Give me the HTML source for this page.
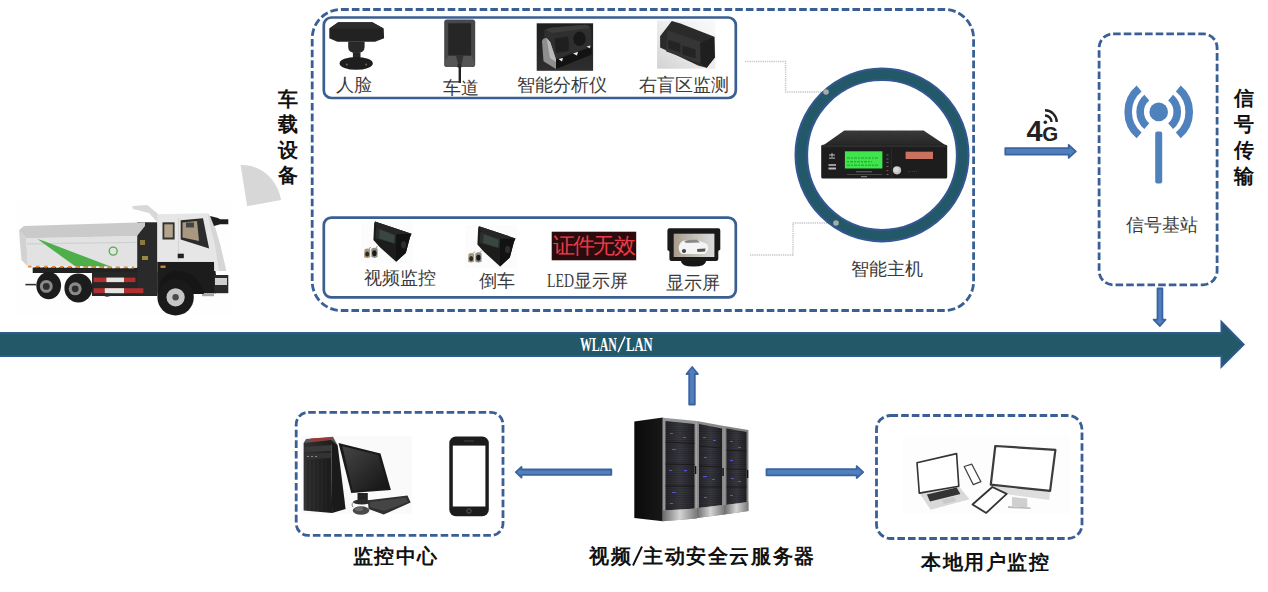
<!DOCTYPE html>
<html><head><meta charset="utf-8">
<style>
html,body{margin:0;padding:0;background:#fff;width:1268px;height:592px;overflow:hidden;position:relative}
.t{position:absolute;line-height:1;white-space:nowrap;font-family:"Liberation Serif",serif;color:#3a3a3a;font-size:17.5px}
.h{position:absolute;line-height:1;white-space:nowrap;font-family:"Liberation Sans",sans-serif;color:#111;font-size:20px;font-weight:bold}
.v{position:absolute;line-height:25px;width:22px;text-align:center;font-family:"Liberation Sans",sans-serif;color:#111;font-size:20px;font-weight:bold}
svg{position:absolute;left:0;top:0}
</style></head><body>
<svg width="1268" height="592" viewBox="0 0 1268 592">
<defs>
  <linearGradient id="arrowg" x1="0" y1="0" x2="0" y2="1">
    <stop offset="0" stop-color="#4a79b5"/><stop offset="0.5" stop-color="#5585c2"/><stop offset="1" stop-color="#4a79b5"/>
  </linearGradient>
</defs>

<!-- big dashed vehicle box -->
<rect x="312.2" y="9.5" width="661.4" height="301" rx="29" ry="29" fill="none" stroke="#3a5f94" stroke-width="2.8" stroke-dasharray="7.6 3.05"/>
<!-- inner top box -->
<rect x="323.8" y="17.5" width="412" height="80.5" rx="7.5" fill="none" stroke="#3a5f92" stroke-width="2.7"/>
<!-- inner bottom box -->
<rect x="323.8" y="217.6" width="412" height="79.8" rx="7.5" fill="none" stroke="#3a5f92" stroke-width="2.7"/>

<!-- dotted connectors -->
<path d="M745 61.5 H785.6 V92 H826" fill="none" stroke="#c6c6c6" stroke-width="1.4" stroke-dasharray="1.3 0.9"/>
<path d="M750 255 H793 V223 H836" fill="none" stroke="#c6c6c6" stroke-width="1.4" stroke-dasharray="1.3 0.9"/>

<!-- ring -->
<circle cx="882" cy="155" r="80.7" fill="none" stroke="#33578f" stroke-width="13.6"/>
<circle cx="882" cy="155" r="80.7" fill="none" stroke="#225868" stroke-width="9.2"/>
<circle cx="826" cy="92" r="2.8" fill="#aaaaaa"/>
<circle cx="836" cy="223" r="2.8" fill="#aaaaaa"/>

<!-- signal box -->
<rect x="1099.1" y="33.8" width="118" height="251" rx="14" fill="none" stroke="#3a5f94" stroke-width="2.8" stroke-dasharray="7.6 3.05"/>

<!-- antenna -->
<g fill="#4f81bd" stroke="none">
  <circle cx="1158.7" cy="111.9" r="9.3"/>
  <rect x="1155.2" y="131.4" width="7" height="52" rx="2"/>
</g>
<g fill="none" stroke="#4f81bd" stroke-width="7.6">
  <path d="M1146.8 97.7 A18.5 18.5 0 0 0 1146.8 126.1"/>
  <path d="M1170.6 97.7 A18.5 18.5 0 0 1 1170.6 126.1"/>
  <path d="M1139.1 88.5 A30.5 30.5 0 0 0 1139.1 135.3"/>
  <path d="M1178.3 88.5 A30.5 30.5 0 0 1 1178.3 135.3"/>
</g>

<!-- 4G -->
<g fill="none" stroke="#222" stroke-width="2.4">
  <path d="M1045 115.5 A6.5 6.5 0 0 1 1051.5 122"/>
  <path d="M1045 110.3 A11.7 11.7 0 0 1 1056.7 122"/>
</g>
<circle cx="1045.3" cy="122.2" r="1.8" fill="#222"/>

<!-- small arrows -->
<g fill="#4f80bd" stroke="#3a63a0" stroke-width="1.8" stroke-linejoin="round">
  <path d="M1005.3 148.1 H1068.7 V144.9 L1075.8 151.4 L1068.7 157.9 V154.6 H1005.3 Z"/>
  <path d="M1157.5 288.5 H1162.4 V319.7 H1165.5 L1159.95 326 L1153.6 319.7 H1157.5 Z"/>
  <path d="M689.2 404.5 V374 H686.5 L692.2 367 L697.9 374 H694.8 V404.5 Z"/>
  <path d="M611.3 469.5 H521.5 V466.9 L515.8 472.2 L521.5 477.6 V474.8 H611.3 Z"/>
  <path d="M766.5 469.1 H856.7 V466.2 L863.2 472.2 L856.7 478 V475.3 H766.5 Z"/>
</g>

<!-- big WLAN arrow -->
<path d="M-2 333 H1221.5 V322 L1243.6 344.4 L1221.5 366.6 V356 H-2 Z" fill="#225868" stroke="#2f5a8c" stroke-width="2"/>

<!-- bottom dashed boxes -->
<rect x="296.2" y="412.3" width="206.8" height="123.1" rx="12" fill="none" stroke="#3a5f94" stroke-width="2.8" stroke-dasharray="7.6 3.05"/>
<rect x="876.5" y="415.5" width="205.5" height="123" rx="14" fill="none" stroke="#3a5f94" stroke-width="2.8" stroke-dasharray="7.6 3.05"/>

<!-- grey pie -->
<path d="M240.6 165.1 C261 164.5 277.5 179 281.1 200.1 L247.2 206.2 Z" fill="#d7d7d7"/>

<!-- ILLUSTRATIONS placeholder -->
<g id="illus">
<!-- TRUCK -->
<g id="truck">
  <rect x="16" y="199" width="216" height="116" fill="#fefefe"/>
  <!-- chassis -->
  <path d="M32.7 267 H140 V273 H32.7 Z" fill="#222"/>
  <path d="M92 272 H157.5 V296 H92 Z" fill="#262626"/>
  <path d="M137.2 222.3 H157.4 V294 H137.2 Z" fill="#2a2a2a"/>
  <rect x="140" y="240" width="5" height="5" fill="#8a7a40"/>
  <rect x="142" y="256" width="6" height="4" fill="#9a8a40"/>
  <path d="M157.4 261.8 H214.1 L216 275 V293.2 H157.4 Z" fill="#1c1c1c"/>
  <line x1="25.4" y1="284.6" x2="36" y2="284.6" stroke="#333" stroke-width="1.6"/>
  <!-- red/white bars -->
  <rect x="93.6" y="277.6" width="41.8" height="4.5" fill="#b03030"/>
  <rect x="106.4" y="277.6" width="17.6" height="4.5" fill="#e4e4e4"/>
  <rect x="93.6" y="288.2" width="49.8" height="5" fill="#b03030"/>
  <rect x="104.8" y="288.2" width="19.2" height="5" fill="#e4e4e4"/>
  <!-- rear wheels -->
  <ellipse cx="48.7" cy="285.6" rx="12.4" ry="13.6" fill="#1c1c1c"/>
  <circle cx="46.3" cy="286.4" r="6.4" fill="#8a8a8a"/><circle cx="46.3" cy="286.4" r="3.4" fill="#2e2e2e"/>
  <path d="M101 293 Q106 300 114 294 Z" fill="#2a2a2a"/>
  <ellipse cx="78.4" cy="288" rx="14" ry="14.4" fill="#1c1c1c"/>
  <circle cx="75.2" cy="288.8" r="6.5" fill="#8a8a8a"/><circle cx="75.2" cy="288.8" r="3.4" fill="#2e2e2e"/>
  <!-- dump body -->
  <path d="M26.2 238.3 L137 235.9 V268 L27.8 266.4 Z" fill="#e2e2e2"/>
  <path d="M19 230.2 L26.2 238.3 L27.8 266.4 L21.4 260 Z" fill="#d2d2d2"/>
  <line x1="27" y1="243.9" x2="137" y2="242.4" stroke="#d0d0d0" stroke-width="1.2"/>
  <path d="M19 230.2 L24 226 L145 222.2 L145 226 L137 235.9 L26.2 238.3 Z" fill="#cacaca"/>
  <!-- green stripe -->
  <path d="M37.5 239.1 L43 240.7 L114.5 268 L77.6 268 Z" fill="#4caf4a"/>
  <circle cx="113.2" cy="251.1" r="4" fill="none" stroke="#4caf4a" stroke-width="1.3"/>
  <!-- orange-white strip -->
  <line x1="28" y1="266.6" x2="134" y2="267.5" stroke="#e58a3a" stroke-width="1.8" stroke-dasharray="3.5 4.5"/>
  <line x1="32" y1="266.6" x2="134" y2="267.5" stroke="#f2f2f2" stroke-width="1.8" stroke-dasharray="3.5 4.5"/>
  <!-- deflector -->
  <path d="M132.1 206.1 L147.3 205.1 L158.4 214.2 L158.4 223.3 L149 213 L133 209 Z" fill="#d8d8d8"/>
  <!-- cab -->
  <path d="M157.4 214.2 L208 213.2 L214.1 224.3 L220.2 244.6 L226.3 270.9 L214.1 270.9 V261.8 H157.4 Z" fill="#e6e6e6"/>
  <path d="M208 213.2 L214.1 224.3 L220.2 244.6 L226.3 270.9 L219 270.9 L215 245 L210 226 Z" fill="#d6d6d6"/>
  <line x1="178.5" y1="218" x2="178.5" y2="261" stroke="#cfcfcf" stroke-width="0.8"/>
  <!-- windows -->
  <path d="M162.5 222.3 H174.6 V239.5 H162.5 Z" fill="#333"/>
  <path d="M164.3 224.3 H172.8 V237.5 H164.3 Z" fill="#b4a48c"/>
  <path d="M180.7 220.3 L203 218.3 L209.1 248.6 L180.7 239.5 Z" fill="#2c2c2c"/>
  <path d="M182.5 222.5 L197 221 L199 241 L182.5 237.5 Z" fill="#a89880"/>
  <rect x="186" y="222.5" width="8" height="5" fill="#444"/>
  <!-- mirror -->
  <path d="M210 216 L218 218 L220.2 219.3 L228.3 219.3 L228.3 224.3 L220.2 224.3 L214 226 Z" fill="#1e1e1e"/>
  <rect x="177.7" y="253.7" width="6.1" height="4.5" fill="#222"/>
  <rect x="160.5" y="265.6" width="5" height="2.3" fill="#d8883a"/>
  <!-- front bumper -->
  <path d="M214.1 275 H228.3 V293.2 H214.1 Z" fill="#2a2a2a"/>
  <rect x="215" y="278" width="12" height="7" fill="#cfcfcf"/>
  <rect x="202" y="293.2" width="12" height="3" fill="#aaa"/>
  <!-- front wheel -->
  <path d="M158 294 Q160 272 176 271 Q198 271 204 294 Z" fill="#161616"/>
  <circle cx="175.6" cy="297.3" r="18.2" fill="#1a1a1a"/>
  <circle cx="175.6" cy="297.3" r="9.1" fill="#c6c6c6"/>
  <circle cx="175.6" cy="297.3" r="3.2" fill="#4a4a4a"/>
</g>
<!-- FACE CAMERA 人脸 -->
<g id="facecam">
  <path d="M338.2 22.3 H372.3 L383.7 28.4 L384.1 38.3 L375.1 41.7 H337.3 L329.3 38.3 V28.4 Z" fill="#222"/>
  <path d="M338.2 22.3 H372.3 L383.7 28.4 H329.3 Z" fill="#2c2c2c"/>
  <path d="M348.2 41.5 H364.6 V47 Q364.6 53 356.4 53 Q348.2 53 348.2 47 Z" fill="#282828"/>
  <rect x="352.9" y="52.5" width="7.6" height="7.5" fill="#262626"/>
  <ellipse cx="356.2" cy="63.4" rx="16.6" ry="6.4" fill="#1e1e1e"/>
  <circle cx="346.8" cy="64.4" r="1" fill="#666"/>
  <circle cx="366.2" cy="64.4" r="1" fill="#666"/>
</g>

<!-- LANE CAMERA 车道 -->
<g id="lanecam">
  <rect x="444.2" y="19.5" width="31" height="47.5" rx="2.8" fill="#484848"/>
  <rect x="448.2" y="23.3" width="22.9" height="32.5" rx="0.8" fill="#262626"/>
  <path d="M448.2 55.8 H471.1 L475 64 Q475 67 472 67 H447.5 Q444.2 67 444.2 64 Z" fill="#555"/>
  <path d="M456 55.8 H463.5 L461.5 64 H458 Z" fill="#333"/>
  <rect x="457.5" y="64" width="4" height="3.5" fill="#2a2a2a"/>
  <line x1="459.8" y1="66" x2="459.8" y2="83" stroke="#222" stroke-width="2.4"/>
</g>

<!-- INTELLIGENT ANALYZER -->
<g id="analyzer">
  <defs><linearGradient id="anbg" x1="0" y1="0" x2="0" y2="1"><stop offset="0" stop-color="#1e1e1e"/><stop offset="1" stop-color="#2e2e2e"/></linearGradient></defs>
  <rect x="536.7" y="23.3" width="56.4" height="47.5" fill="url(#anbg)"/>
  <path d="M544.4 30.5 Q546 28 552 27.5 L585 24.8 Q590 25 591 29 L591.6 42 L589.7 46.9 L556 58.4 L547 52 Q544 44 544.4 30.5 Z" fill="#2f2f2f"/>
  <path d="M546 30 Q548 28 553 27.5 L585 24.8 Q589 25 590 28 L552 33 Z" fill="#3c3c3c"/>
  <path d="M555 38.5 L568 36.5 Q569.5 45 568.5 51 L556 53 Q554.5 45 555 38.5 Z" fill="#1f1f1f"/>
  <ellipse cx="579.5" cy="38.8" rx="6.2" ry="7.2" fill="#181818"/>
  <path d="M542 41 Q543 37.8 546.5 38 L550.2 42.1 L556 59.4 L556 69 L543.5 61.3 Z" fill="#8e8e8e"/>
  <path d="M546.5 38 L550.2 42.1 L556 59.4 L556 62 L550 58 Z" fill="#b8b8b8"/>
  <path d="M556 59.4 L591.6 46.9 L591.6 54.6 L556 69 Z" fill="#121212"/>
  <path d="M558.5 59 L563 58 L562 61.5 Z" fill="#f0f0f0"/>
  <path d="M573 53.5 L578 51.8 L577 55.5 Z" fill="#e8e8e8"/>
  <path d="M586.5 46.5 L590.5 45.5 L590 48.5 Z" fill="#d8d8d8"/>
</g>

<!-- RIGHT BLIND CAMERA -->
<g id="blindcam">
  <defs><linearGradient id="bcg" x1="0" y1="1" x2="1" y2="0"><stop offset="0" stop-color="#d2d2d2"/><stop offset="0.5" stop-color="#ececec"/><stop offset="1" stop-color="#fafafa"/></linearGradient></defs>
  <rect x="657.1" y="20.6" width="58.2" height="48.1" fill="url(#bcg)"/>
  <path d="M660.1 36.3 L671.8 21.1 L680.4 23.6 L714.3 36.8 L714.8 57.5 L706.7 67.7 L698.6 65.7 L660.1 47.4 Z" fill="#2a2a2a"/>
  <path d="M667.2 30.2 L702.7 42.4 L700.7 63.6 L666.2 51.5 Z" fill="#353535"/>
  <path d="M668.2 39.8 L680.4 43.5 L680.4 52.5 L668.2 48.5 Z" fill="#242424"/>
  <path d="M682.4 45.4 L695.6 49.5 L695.6 58.6 L682.4 54.5 Z" fill="#242424"/>
  <path d="M700 43 L714.3 36.8 L714.8 57.5 L706.7 67.7 L700.7 63.6 Z" fill="#1f1f1f"/>
</g>

<!-- VIDEO CAMERA 1 -->
<g id="vcam1">
  <rect x="361.2" y="220.4" width="51.9" height="43" fill="#fcfcfc"/>
  <path d="M374.2 222.9 L375 221.6 L411.5 233.8 L409.9 237.5 L405.8 252.9 L396.1 261.8 L379.9 247.2 L373.4 239.9 Z" fill="#1c1c1c"/>
  <path d="M376.6 226.9 L396.1 234.2 L395.3 244 L375.4 238.3 Z" fill="#2b2f2c"/>
  <path d="M379.8 229.6 L394.5 235.2 L394 243 L379 238.5 Z" fill="#3a4640"/>
  <path d="M396.1 234.2 L411.5 233.8 L409.9 237.5 L405.8 252.9 L396.1 261.8 Z" fill="#121212"/>
  <ellipse cx="403.6" cy="244.8" rx="2.6" ry="3.6" fill="#2e2e2e"/>
  <path d="M375 221.6 L411.5 233.8 L396.1 234.2 L376.6 226.9 Z" fill="#262626"/>
  <path d="M364.5 249.5 Q367 247.5 370.2 249.5 L370.2 257 Q367 259 364 257 Z" fill="#a89a78"/>
  <ellipse cx="367.2" cy="254" rx="2" ry="2.6" fill="#2a2a2a"/>
  <path d="M371.3 248.8 Q374.5 246.5 377.6 248.8 L377.6 256.8 Q374.5 259 371.3 256.8 Z" fill="#8f8f7f"/>
  <ellipse cx="374.4" cy="253.2" rx="2.2" ry="3" fill="#1a1a1a"/>
  <line x1="369" y1="249" x2="370.5" y2="247" stroke="#777" stroke-width="0.8"/>
  <line x1="376" y1="248" x2="377.5" y2="246" stroke="#777" stroke-width="0.8"/>
</g>
<use href="#vcam1" transform="translate(104 4.6)"/>

<!-- LED PANEL -->
<g id="led">
  <rect x="551.7" y="231.7" width="84.5" height="28.6" fill="#2a0c0e"/>
</g>

<!-- MONITOR -->
<g id="monitor">
  <defs><linearGradient id="scr" x1="0" y1="0" x2="1" y2="0"><stop offset="0" stop-color="#a89c8a"/><stop offset="0.55" stop-color="#c4c2bc"/><stop offset="1" stop-color="#dcdcdc"/></linearGradient></defs>
  <path d="M681 261 Q681 266.5 693.5 266.5 Q706 266.5 706 261 Z" fill="#161616"/>
  <path d="M669.5 228.3 H718.3 Q720.3 228.3 720.3 230.5 V249.6 L718.3 251 V259 Q718.3 261 716 261 H671.5 Q669.4 261 669.4 259 V251.2 L667.4 250 V230.5 Q667.4 228.3 669.5 228.3 Z" fill="#1a1a1a"/>
  <rect x="673.7" y="233.7" width="40.7" height="23.3" fill="url(#scr)"/>
  <path d="M678.7 247 Q679.5 242 684 240.5 L690 239.5 Q697 239.3 701 241.5 L707 244 Q708.5 246 708.2 250 L705 253.9 H682 Q678.5 252 678.7 247 Z" fill="#f4f4f4"/>
  <path d="M684 241 L690 239.6 L697 239.8 L700 242.5 L686 243 Z" fill="#8a8a8a"/>
  <path d="M697 249 L705.5 248.5 L705 251.5 L697.5 252 Z" fill="#555"/>
  <circle cx="684" cy="251" r="2.1" fill="#444"/>
</g>

<!-- DVR -->
<g id="dvr">
  <defs><linearGradient id="dvrtop" x1="0" y1="0" x2="0" y2="1"><stop offset="0" stop-color="#3a3a3a"/><stop offset="1" stop-color="#262626"/></linearGradient></defs>
  <path d="M844.3 130.4 H923.6 L946 145.4 H823 Z" fill="url(#dvrtop)"/>
  <g stroke="#303030" stroke-width="0.6"><line x1="860" y1="131" x2="856" y2="145"/><line x1="875" y1="131" x2="873" y2="145"/><line x1="890" y1="131" x2="890" y2="145"/><line x1="905" y1="131" x2="907" y2="145"/></g>
  <rect x="821.2" y="144.8" width="126" height="33.8" rx="1.5" fill="#1d1d1d"/>
  <rect x="822" y="145" width="124.5" height="2.2" fill="#2c2c2c"/>
  <line x1="891.6" y1="148" x2="891.6" y2="178" stroke="#2e2e2e" stroke-width="0.8"/>
  <rect x="844.9" y="151.3" width="37.5" height="17.2" fill="#3ee64c"/>
  <g stroke="#22802e" stroke-width="0.8">
    <line x1="847" y1="158" x2="879" y2="158" stroke-dasharray="3 1 2 1"/>
    <line x1="847" y1="161.8" x2="872" y2="161.8" stroke-dasharray="2 1 3 1"/>
    <line x1="847" y1="165.2" x2="879" y2="165.2" stroke-dasharray="3 1 2 1"/>
  </g>
  <rect x="905.6" y="151.7" width="27.4" height="7.3" fill="#c9735e"/>
  <circle cx="897" cy="170.3" r="4.1" fill="#c4c4c4"/>
  <circle cx="896.3" cy="169.5" r="2.5" fill="#dadada"/>
  <g fill="#6a6a6a"><rect x="886.5" y="154.5" width="2" height="1"/><rect x="886.5" y="158.5" width="2" height="1"/><rect x="886.5" y="162" width="2" height="1"/><rect x="886.5" y="166" width="2" height="1"/><rect x="886.5" y="174" width="2" height="1"/></g>
  <rect x="886.5" y="170" width="2" height="1.2" fill="#8a4a20"/>
  <path d="M829 155 h6 M832 153 v4" stroke="#bbb" stroke-width="1"/>
  <rect x="829" y="157.5" width="6" height="1.2" fill="#aaa"/>
  <rect x="828.5" y="164" width="7.5" height="2" fill="#999"/>
  <rect x="828.5" y="167.5" width="7.5" height="2" fill="#bbb"/>
  <rect x="856" y="171" width="16" height="1.4" fill="#555"/>
  <rect x="846.7" y="174" width="35.5" height="1" fill="#444"/>
  <rect x="861" y="176" width="6" height="1.2" fill="#777"/>
  <line x1="908" y1="171.5" x2="918" y2="171.5" stroke="#444" stroke-width="0.8" stroke-dasharray="1 1"/>
</g>
<!-- SERVER -->
<g id="server">
  <defs>
    <linearGradient id="srvside" x1="0" y1="0" x2="1" y2="0"><stop offset="0" stop-color="#0a0a0a"/><stop offset="1" stop-color="#181818"/></linearGradient>
    <linearGradient id="srvfront" x1="0" y1="0" x2="1" y2="0"><stop offset="0" stop-color="#26262c"/><stop offset="0.5" stop-color="#3a3a42"/><stop offset="1" stop-color="#222228"/></linearGradient>
    <linearGradient id="silver" x1="0" y1="0" x2="1" y2="0"><stop offset="0" stop-color="#6a6a6a"/><stop offset="0.5" stop-color="#d4d4d4"/><stop offset="1" stop-color="#7a7a7a"/></linearGradient>
    <pattern id="mesh" width="3" height="2.2" patternUnits="userSpaceOnUse"><rect width="3" height="1" fill="#000" opacity="0.22"/></pattern>
  </defs>
  <path d="M634.3 421.5 L662.8 417.5 L662.8 521.3 L634.3 518 Z" fill="url(#srvside)"/>
  <path d="M662.8 417.7 L696.8 421 L696.8 518.5 L662.8 521.3 Z" fill="#959595"/>
  <path d="M665.5 421 L694.5 424 L694.5 508.5 L665.5 510.5 Z" fill="url(#srvfront)"/>
  <path d="M665.5 421 L694.5 424 L694.5 508.5 L665.5 510.5 Z" fill="url(#mesh)"/>
  <path d="M662.8 510.5 L696.8 508.5 L696.8 518.5 L662.8 521.3 Z" fill="url(#silver)"/>
  <path d="M696.8 421 L724.2 426 L724.2 514.5 L696.8 518 Z" fill="#8a8a8a"/>
  <path d="M699 424 L722 428.5 L722 505 L699 508 Z" fill="url(#srvfront)"/>
  <path d="M699 424 L722 428.5 L722 505 L699 508 Z" fill="url(#mesh)"/>
  <path d="M696.8 508 L724.2 505 L724.2 514.5 L696.8 518 Z" fill="url(#silver)"/>
  <path d="M724.2 426 L748.4 430 L748.4 511 L724.2 514.5 Z" fill="#828282"/>
  <path d="M726.5 428.5 L746.5 432 L746.5 502 L726.5 505 Z" fill="url(#srvfront)"/>
  <path d="M726.5 428.5 L746.5 432 L746.5 502 L726.5 505 Z" fill="url(#mesh)"/>
  <path d="M724.2 505 L748.4 502 L748.4 511 L724.2 514.5 Z" fill="url(#silver)"/>
  <g stroke="#18181c" stroke-width="0.9">
    <line x1="665.5" y1="442" x2="694.5" y2="443.5"/><line x1="665.5" y1="464" x2="694.5" y2="464.5"/><line x1="665.5" y1="486" x2="694.5" y2="486"/>
    <line x1="699" y1="446" x2="722" y2="448"/><line x1="699" y1="466" x2="722" y2="467"/><line x1="699" y1="487" x2="722" y2="487"/>
    <line x1="726.5" y1="450" x2="746.5" y2="451"/><line x1="726.5" y1="469" x2="746.5" y2="469.5"/><line x1="726.5" y1="487" x2="746.5" y2="487"/>
  </g>
  <g fill="#5a5ae8" opacity="0.9">
    <rect x="670" y="433" width="3" height="1"/><rect x="683" y="437" width="3" height="1"/><rect x="672" y="449" width="4" height="1"/>
    <rect x="669" y="470" width="3" height="1"/><rect x="684" y="470" width="3" height="1.3"/><rect x="672" y="492" width="4" height="1"/><rect x="670" y="503" width="3" height="1"/>
    <rect x="703" y="437" width="3" height="1"/><rect x="713" y="440" width="3" height="1"/><rect x="704" y="457" width="3" height="1"/>
    <rect x="703" y="476" width="4" height="1.2"/><rect x="712" y="479" width="3" height="1"/><rect x="704" y="497" width="3" height="1"/>
    <rect x="730" y="441" width="3" height="1"/><rect x="738" y="447" width="3" height="1"/><rect x="730" y="460" width="3" height="1"/>
    <rect x="731" y="478" width="3" height="1"/><rect x="738" y="481" width="3" height="1"/><rect x="730" y="495" width="3" height="1"/>
  </g>
  <rect x="694.8" y="466" width="1.5" height="8" fill="#111"/>
  <rect x="722.3" y="468" width="1.5" height="8" fill="#111"/>
  <rect x="746.8" y="470" width="1.5" height="8" fill="#111"/>
</g>

<!-- PC -->
<g id="pc">
  <rect x="301.2" y="436" width="111" height="77.7" fill="#fafafa"/>
  <path d="M306 439 L333 436.7 L337.7 445.5 L303.6 443.1 Z" fill="#5a5a5a"/>
  <path d="M303.6 443.1 L331.3 439.9 L332.1 512.9 L303.6 510.5 Z" fill="url(#tower)"/><g stroke="#181818" stroke-width="0.6" opacity="0.8"><line x1="308" y1="460" x2="308" y2="510"/><line x1="312" y1="460" x2="312" y2="511"/><line x1="316" y1="460" x2="316" y2="511"/><line x1="320" y1="460" x2="320" y2="511"/><line x1="324" y1="460" x2="324" y2="512"/><line x1="328" y1="460" x2="328" y2="512"/></g>
  <path d="M331.3 439.9 L337.7 445.5 L345.6 509 L332.1 512.9 Z" fill="#1a1a1a"/>
  <path d="M310.7 438.6 L332.1 437.4 L332.1 439.8 L310.7 441 Z" fill="#a83232"/>
  <path d="M304.5 447 L331 445 V451 L304.5 452 Z" fill="#3a3a3a"/>
  <path d="M304.5 454 L331 452.5 V458 L304.5 459 Z" fill="#333"/>
  <g fill="#888"><rect x="307" y="456" width="2" height="1"/><rect x="311" y="456" width="2" height="1"/><rect x="315" y="456" width="2" height="1"/></g>
  <!-- monitor -->
  <path d="M338.5 443.1 L380.5 453.4 L390.9 489.9 L351.2 493.1 Z" fill="#1a1a1a"/>
  <defs><linearGradient id="pcscr" x1="0" y1="0" x2="1" y2="1"><stop offset="0" stop-color="#454545"/><stop offset="1" stop-color="#141414"/></linearGradient><linearGradient id="tower" x1="0" y1="0" x2="1" y2="0"><stop offset="0" stop-color="#333"/><stop offset="1" stop-color="#1c1c1c"/></linearGradient></defs><path d="M342.4 446.3 L378.2 455 L387.7 487.5 L352.8 490.7 Z" fill="url(#pcscr)"/>
  <path d="M357.5 493 H367.8 V501 H357.5 Z" fill="#222"/>
  <ellipse cx="362" cy="502" rx="9" ry="2.5" fill="#2a2a2a"/>
  <!-- keyboard -->
  <path d="M367.8 500.2 L407.5 495.5 L410.7 502.6 L383.7 514.5 L368.6 509 Z" fill="#303030"/>
  <path d="M370 502 L406 497.5 L408 502 L384 511 L370 507 Z" fill="#454545"/>
  <!-- mouse -->
  <ellipse cx="361" cy="510.5" rx="8.3" ry="4.2" fill="#4a4a4a"/><ellipse cx="359" cy="509" rx="4" ry="2" fill="#6a6a6a"/>
  <path d="M353 507 Q350 503 356 501" fill="none" stroke="#555" stroke-width="0.8"/>
</g>

<!-- PHONE -->
<g id="phone">
  <rect x="449.3" y="436.5" width="39.5" height="79.7" rx="6.5" fill="#1c1c1c"/>
  <rect x="452.8" y="445.6" width="32.6" height="60.9" fill="#ffffff"/>
  <circle cx="469" cy="511" r="2.2" fill="none" stroke="#666" stroke-width="0.8"/>
  <rect x="464" y="440.5" width="10" height="1" fill="#444"/>
</g>

<!-- DEVICES -->
<g id="devices">
  <rect x="902.6" y="436.1" width="167.2" height="77.5" fill="#fdfdfd"/>
  <!-- iMac -->
  <path d="M990.8 484.7 L1050.1 490.8 L1049.3 499.9 L992.3 492.3 Z" fill="#dedede"/>
  <path d="M1012 497 L1027.3 498.5 L1027.3 507.5 L1012 506 Z" fill="#cfcfcf"/>
  <path d="M1008 506 L1031 507.5 L1030 509 L1008 508 Z" fill="#bbb"/>
  <path d="M995.3 446 L1055.4 449.8 L1050.1 490.8 L990.8 484.7 Z" fill="#fff" stroke="#3c3c3c" stroke-width="2.2" stroke-linejoin="round"/>
  <!-- laptop -->
  <path d="M919.3 493.1 L958.8 486.2 L969.5 499.2 L930.7 509.8 Z" fill="#d9d9d9"/>
  <path d="M926.9 494.6 L956.6 487.5 L960.4 493.9 L930 501.5 Z" fill="#333"/>
  <path d="M942 500 L954 497 L956 501 L944 504 Z" fill="#c8c8c8"/>
  <path d="M917 462.7 L956.6 453.6 L958.8 486.2 L919.3 493.1 Z" fill="#fff" stroke="#333" stroke-width="1.6" stroke-linejoin="round"/>
  <!-- phone -->
  <path d="M964.2 466.5 L971.8 464.2 L980.9 481.7 L973.3 484.7 Z" fill="#fff" stroke="#444" stroke-width="1.3" stroke-linejoin="round"/>
  <!-- tablet -->
  <path d="M972.5 504.5 L992.3 487 L1006.7 493.9 L986.2 512.9 Z" fill="#fff" stroke="#333" stroke-width="1.8" stroke-linejoin="round"/>
</g>
</g>
</svg>

<!-- text -->
<div class="v" style="left:276.6px;top:87.2px;line-height:25.3px">车<br>载<br>设<br>备</div>
<div class="v" style="left:1232.6px;top:84.6px;line-height:26px">信<br>号<br>传<br>输</div>

<div style="position:absolute;left:553px;top:234.5px;font-family:'Liberation Sans',sans-serif;font-size:22px;color:#ec3a48;line-height:1;letter-spacing:-1.8px">证件无效</div>
<div class="t" style="left:336px;top:77.4px">人脸</div>
<div class="t" style="left:443px;top:80px">车道</div>
<div class="t" style="left:517px;top:77.4px">智能分析仪</div>
<div class="t" style="left:638.5px;top:77px">右盲区监测</div>
<div class="t" style="left:364px;top:270px">视频监控</div>
<div class="t" style="left:478.6px;top:272.5px">倒车</div>
<div class="t" style="left:547px;top:271px"><span style="display:inline-block;font-size:19.6px;transform:scaleX(0.71);transform-origin:0 100%;margin-right:-11px;vertical-align:-0.5px">LED</span>显示屏</div>
<div class="t" style="left:666px;top:274.6px">显示屏</div>
<div class="t" style="left:851px;top:261px">智能主机</div>
<div class="t" style="left:1125.5px;top:217px">信号基站</div>

<div class="h" style="left:353px;top:545.8px;letter-spacing:1.3px">监控中心</div>
<div class="h" style="left:589px;top:546.2px;letter-spacing:1.6px">视频<svg style="position:static;display:inline-block;vertical-align:top;margin:0 0 0 -0.3px" width="11" height="20" viewBox="0 0 11 20"><line x1="1" y1="19.5" x2="10" y2="0.5" stroke="#111" stroke-width="1.9"/></svg>主动安全云服务器</div>
<div class="h" style="left:921px;top:552px;letter-spacing:1.5px">本地用户监控</div>

<div style="position:absolute;left:580px;top:334.5px;font-family:'Liberation Serif',serif;font-weight:bold;font-size:19.2px;color:#fff;line-height:1;transform:scaleX(0.615);transform-origin:0 0">WLAN</div>
<svg style="left:617px;top:336px" width="9" height="17" viewBox="0 0 9 17"><line x1="1" y1="16.2" x2="8" y2="0.6" stroke="#fff" stroke-width="1.5"/></svg>
<div style="position:absolute;left:626px;top:334.5px;font-family:'Liberation Serif',serif;font-weight:bold;font-size:19.2px;color:#fff;line-height:1;transform:scaleX(0.66);transform-origin:0 0">LAN</div>
<div style="position:absolute;left:1026.5px;top:116.8px;font-family:'Liberation Sans',sans-serif;font-weight:bold;font-size:29px;color:#222;line-height:1">4</div>
<div style="position:absolute;left:1042.3px;top:123.5px;font-family:'Liberation Sans',sans-serif;font-weight:bold;font-size:20.5px;color:#222;line-height:1">G</div>
</body></html>
